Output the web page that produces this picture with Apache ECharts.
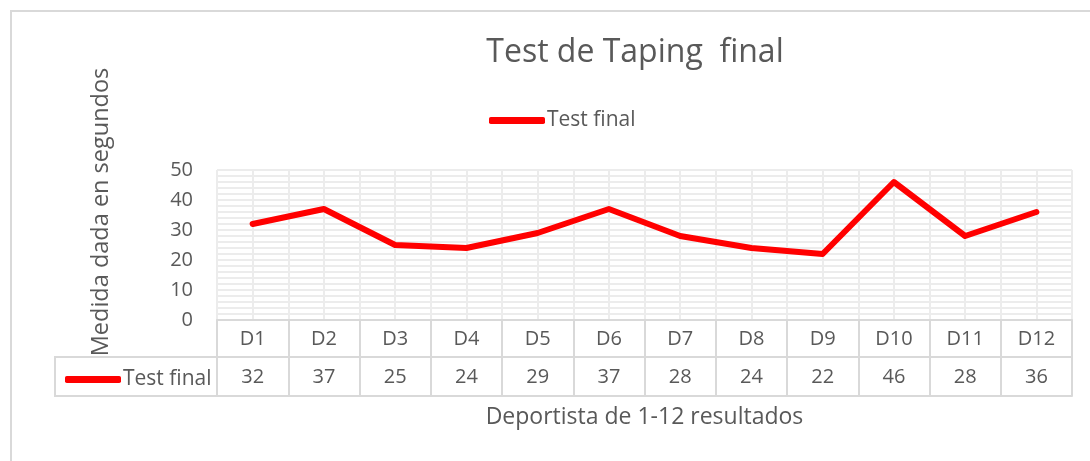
<!DOCTYPE html>
<html>
<head>
<meta charset="utf-8">
<script src="https://cdn.jsdelivr.net/npm/echarts@6/dist/echarts.min.js"></script>
<style>
  html, body { margin: 0; padding: 0; background: #fff; }
  #chart { width: 1090px; height: 461px; }
</style>
</head>
<body>
<div id="chart"></div>
<script>
// data
const categories = ["D1", "D2", "D3", "D4", "D5", "D6", "D7", "D8", "D9", "D10", "D11", "D12"];
const testFinal = [32, 37, 25, 24, 29, 37, 28, 24, 22, 46, 28, 36];
const yTicks = [0, 10, 20, 30, 40, 50];

const FONT = "Open Sans";
const TEXT = "#595959";
const BORDER = "#d9d9d9";
const GRIDC = "#ececec";

const chart = echarts.init(document.getElementById("chart"));

// hidden axes that only draw the horizontal rules of the data table
function tableRule(offset) {
  return {
    type: "category",
    data: categories,
    position: "bottom",
    offset: offset,
    axisLine: { show: true, lineStyle: { color: BORDER, width: 2 } },
    axisTick: { show: false },
    axisLabel: { show: false },
    splitLine: { show: false },
  };
}

chart.setOption({
  animation: false,
  textStyle: { fontFamily: FONT },
  title: {
    text: "Test de Taping  final",
    left: 630,
    textAlign: "center",
    top: 32,
    textStyle: { fontFamily: FONT, fontSize: 32, fontWeight: "normal", color: TEXT },
  },
  legend: [
    {
      data: ["Test final"],
      left: 484,
      top: 105,
      icon: "roundRect",
      itemWidth: 56,
      itemHeight: 7,
      textStyle: { fontFamily: FONT, fontSize: 21, color: TEXT, padding: [0, 0, 0, -3] },
      selectedMode: false,
    },
    {
      data: ["Test final"],
      left: 60,
      top: 364,
      icon: "roundRect",
      itemWidth: 56,
      itemHeight: 7,
      textStyle: { fontFamily: FONT, fontSize: 21, color: TEXT, padding: [0, 0, 0, -3] },
      selectedMode: false,
    },
  ],
  grid: { left: 217, right: 18, top: 170, bottom: 141 },
  xAxis: [
    {
      type: "category",
      data: categories,
      boundaryGap: true,
      name: "Deportista de 1-12 resultados",
      nameLocation: "middle",
      nameGap: 86,
      nameTextStyle: { fontFamily: FONT, fontSize: 23, color: TEXT },
      axisLine: { show: true, lineStyle: { color: BORDER, width: 2 } },
      axisTick: { show: true, interval: 0, length: 76, lineStyle: { color: BORDER, width: 2 } },
      axisLabel: {
        interval: 0,
        margin: 0,
        formatter: (v, i) => "{a|" + v + "}\n{a|" + testFinal[i] + "}",
        rich: { a: { fontFamily: FONT, fontSize: 20, color: TEXT, lineHeight: 38, height: 38 } },
      },
      splitLine: { show: false },
    },
    // vertical grid lines at every half category
    {
      type: "value",
      min: 0,
      max: 24,
      interval: 1,
      position: "top",
      axisLine: { show: false },
      axisTick: { show: false },
      axisLabel: { show: false },
      splitLine: { show: true, lineStyle: { color: GRIDC, width: 2 } },
    },
    tableRule(37),
    tableRule(76),
  ],
  yAxis: {
    type: "value",
    min: yTicks[0],
    max: yTicks[yTicks.length - 1],
    interval: 10,
    name: "Medida dada en segundos",
    nameLocation: "middle",
    nameRotate: 90,
    nameGap: 104,
    nameTextStyle: { fontFamily: FONT, fontSize: 23.5, color: TEXT, padding: [0, 0, 0, 66] },
    axisLine: { show: false },
    axisTick: { show: false },
    axisLabel: { fontFamily: FONT, fontSize: 20, color: TEXT, margin: 24 },
    splitLine: { show: true, lineStyle: { color: GRIDC, width: 2 } },
    minorTick: { show: false, splitNumber: 5 },
    minorSplitLine: { show: true, lineStyle: { color: GRIDC, width: 2 } },
  },
  graphic: [
    // chart frame (cropped at the right and bottom)
    {
      type: "rect",
      shape: { x: 11, y: 11, width: 1200, height: 600 },
      style: { fill: "none", stroke: BORDER, lineWidth: 2 },
      silent: true,
    },
    // legend key cell of the data table
    {
      type: "rect",
      shape: { x: 55, y: 357, width: 162, height: 39 },
      style: { fill: "none", stroke: BORDER, lineWidth: 2 },
      silent: true,
    },
  ],
  series: [
    {
      name: "Test final",
      type: "line",
      data: testFinal,
      symbol: "none",
      itemStyle: { color: "#ff0000" },
      lineStyle: { color: "#ff0000", width: 6, cap: "round", join: "round" },
    },
  ],
});
</script>
</body>
</html>
